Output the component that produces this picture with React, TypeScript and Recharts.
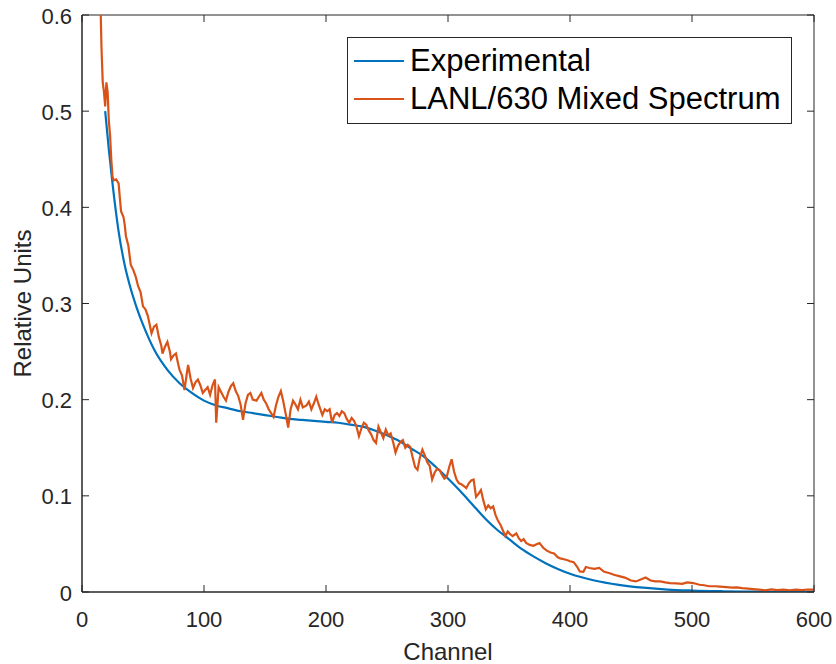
import React from 'react';
import { Legend, Line, LineChart, ReferenceArea, XAxis, YAxis } from 'recharts';

// Experimental (smooth) curve
const expChannels = [19, 22, 25, 30, 35, 40, 45, 50, 55, 60, 70, 80, 90, 100, 110, 120, 130, 140, 150, 160, 170, 180, 190, 200,
    210, 220, 230, 240, 250, 260, 270, 280, 290, 300, 310, 320, 330, 340, 350, 360, 370, 380, 390, 400,
    420, 440, 460, 480, 500, 525, 550, 575, 600];
const expValues = [0.5, 0.46, 0.425, 0.375, 0.34, 0.315, 0.295, 0.278, 0.263, 0.25, 0.231, 0.217, 0.207, 0.199, 0.194, 0.191,
    0.188, 0.186, 0.184, 0.182, 0.18, 0.179, 0.178, 0.177, 0.176, 0.174, 0.172, 0.168, 0.163, 0.157, 0.149, 0.141, 0.13,
    0.118, 0.105, 0.091, 0.077, 0.065, 0.055, 0.045, 0.037, 0.03, 0.024, 0.019, 0.012, 0.0075, 0.0045, 0.0025, 0.0015,
    0.0008, 0.0004, 0.0002, 0.0001];

// LANL/630 mixed spectrum (noisy)
const lanlChannels = [15, 16, 17, 18, 19, 20, 21, 22, 23, 24, 25, 26, 28, 30, 31, 32, 34, 35, 36, 38, 40, 42, 44, 46, 48,
    50, 52, 54, 56, 57, 59, 61, 63, 65, 66, 68, 70, 72, 73, 75, 77, 79, 80, 82, 84, 86, 87, 89, 91, 93, 95, 97, 99,
    101, 103, 105, 107, 109, 110, 112, 114, 116, 118, 120, 122, 124, 126, 128, 130, 132, 134, 136, 138, 140, 143, 145,
    147, 149, 151, 153, 155, 157, 159, 161, 163, 165, 167, 169, 171, 173, 175, 177, 179, 181, 184, 186, 188, 190, 192,
    194, 197, 199, 201, 203, 205, 207, 209, 211, 213, 215, 217, 219, 221, 223, 225, 227, 229, 231, 233, 235, 237, 239,
    241, 243, 245, 247, 249, 251, 253, 255, 257, 259, 261, 263, 265, 267, 269, 271, 273, 275, 277, 279, 281, 283, 285,
    287, 289, 291, 293, 295, 297, 299, 301, 303, 305, 307, 309, 311, 313, 315, 317, 319, 321, 323, 325, 327, 329, 331,
    333, 335, 337, 339, 341, 343, 345, 347, 349, 351, 353, 356, 358, 360, 362, 364, 367, 370, 373, 375, 378, 381, 384,
    387, 390, 392, 395, 398, 400, 403, 406, 408, 411, 413, 416, 420, 424, 428, 432, 436, 441, 445, 450, 454, 458, 462,
    466, 470, 474, 478, 482, 487, 492, 496, 501, 506, 510, 514, 519, 523, 528, 533, 537, 541, 546, 550, 555, 560, 565,
    570, 575, 580, 585, 590, 595, 600];
const lanlValues = [0.62, 0.565, 0.53, 0.52, 0.505, 0.53, 0.52, 0.49, 0.475, 0.45, 0.432, 0.428, 0.429, 0.425, 0.41, 0.396,
    0.39, 0.382, 0.37, 0.36, 0.34, 0.335, 0.328, 0.318, 0.312, 0.297, 0.294, 0.287, 0.275, 0.269, 0.276, 0.278, 0.265,
    0.256, 0.248, 0.255, 0.26, 0.25, 0.242, 0.246, 0.248, 0.236, 0.231, 0.225, 0.21, 0.228, 0.236, 0.222, 0.212, 0.218,
    0.221, 0.215, 0.207, 0.21, 0.213, 0.205, 0.215, 0.221, 0.176, 0.213, 0.208, 0.203, 0.199, 0.208, 0.214, 0.217, 0.209,
    0.204, 0.195, 0.179, 0.196, 0.205, 0.207, 0.2, 0.199, 0.203, 0.207, 0.2, 0.196, 0.19, 0.186, 0.182, 0.194, 0.203,
    0.209, 0.198, 0.185, 0.171, 0.19, 0.199, 0.195, 0.19, 0.2, 0.192, 0.194, 0.198, 0.19, 0.196, 0.203, 0.195, 0.184,
    0.19, 0.188, 0.19, 0.176, 0.184, 0.186, 0.183, 0.188, 0.186, 0.18, 0.176, 0.181, 0.178, 0.172, 0.162, 0.17, 0.176,
    0.174, 0.168, 0.164, 0.158, 0.155, 0.172, 0.166, 0.16, 0.169, 0.163, 0.165, 0.156, 0.145, 0.152, 0.156, 0.158, 0.15,
    0.153, 0.151, 0.14, 0.13, 0.127, 0.14, 0.148, 0.142, 0.135, 0.131, 0.117, 0.124, 0.128, 0.127, 0.122, 0.118, 0.12,
    0.13, 0.138, 0.125, 0.117, 0.113, 0.112, 0.11, 0.108, 0.113, 0.116, 0.117, 0.099, 0.102, 0.106, 0.095, 0.086, 0.09,
    0.087, 0.089, 0.08, 0.074, 0.07, 0.064, 0.058, 0.063, 0.06, 0.058, 0.061, 0.056, 0.053, 0.055, 0.051, 0.049, 0.048,
    0.05, 0.051, 0.046, 0.043, 0.041, 0.04, 0.036, 0.035, 0.034, 0.033, 0.032, 0.031, 0.026, 0.0214, 0.021, 0.026, 0.025,
    0.024, 0.025, 0.021, 0.0197, 0.018, 0.0163, 0.015, 0.012, 0.011, 0.013, 0.015, 0.012, 0.011, 0.011, 0.01, 0.0093,
    0.009, 0.0085, 0.01, 0.0093, 0.0075, 0.007, 0.006, 0.006, 0.0055, 0.005, 0.0045, 0.0048, 0.004, 0.0035, 0.003,
    0.0024, 0.0018, 0.0028, 0.002, 0.0025, 0.0018, 0.0024, 0.002, 0.0026, 0.0024];

const xTicks = [0, 100, 200, 300, 400, 500, 600];
const yTicks = [0, 0.1, 0.2, 0.3, 0.4, 0.5, 0.6];

const expData = expChannels.map((x, i) => ({ x, y: expValues[i] }));
const lanlData = lanlChannels.map((x, i) => ({ x, y: lanlValues[i] }));

const AXIS = '#262626';
const FONT = '"Liberation Sans", Arial, Helvetica, sans-serif';
const PLOT = { left: 82, right: 814, top: 15, bottom: 592 };
const TICK_LEN = 7;

const XTick = (props: any) => {
    const { x, payload } = props;
    return (
        <g>
            <line x1={x} x2={x} y1={PLOT.bottom} y2={PLOT.bottom - TICK_LEN} stroke={AXIS} />
            <line x1={x} x2={x} y1={PLOT.top} y2={PLOT.top + TICK_LEN} stroke={AXIS} />
            <text x={x} y={619} textAnchor="middle" dominantBaseline="central" fill={AXIS} fontSize={22} fontFamily={FONT}>
                {payload.value}
            </text>
        </g>
    );
};

const YTick = (props: any) => {
    const { y, payload } = props;
    return (
        <g>
            <line x1={PLOT.left} x2={PLOT.left + TICK_LEN} y1={y} y2={y} stroke={AXIS} />
            <line x1={PLOT.right} x2={PLOT.right - TICK_LEN} y1={y} y2={y} stroke={AXIS} />
            <text x={72} y={y + 1} textAnchor="end" dominantBaseline="central" fill={AXIS} fontSize={22} fontFamily={FONT}>
                {payload.value}
            </text>
        </g>
    );
};

const LegendBox = (props: any) => {
    const items = props.payload || [];
    return (
        <div
            style={{
                width: 445,
                height: 87,
                boxSizing: 'border-box',
                border: `1px solid ${AXIS}`,
                background: '#fff',
                paddingTop: 4,
                fontFamily: FONT,
            }}
        >
            {items.map((it: any) => (
                <div key={it.value} style={{ display: 'flex', alignItems: 'center', height: 38 }}>
                    <svg width={62} height={10} style={{ flex: 'none' }}>
                        <line x1={6} x2={56} y1={5} y2={5} stroke={it.color} strokeWidth={2} />
                    </svg>
                    <span style={{ fontSize: 31, color: '#000', whiteSpace: 'nowrap', lineHeight: '38px' }}>{it.value}</span>
                </div>
            ))}
        </div>
    );
};

const App: React.FC = () => {
    return (
        <div style={{ position: 'absolute', left: 0, top: 0, background: '#fff' }}>
            <LineChart width={836} height={664} margin={{ top: 15, right: 22, bottom: 0, left: 0 }}>
                <XAxis
                    dataKey="x"
                    type="number"
                    domain={[0, 600]}
                    ticks={xTicks}
                    height={72}
                    axisLine={{ stroke: AXIS }}
                    tickLine={false}
                    tick={<XTick />}
                    interval={0}
                    allowDataOverflow
                    label={{ value: 'Channel', position: 'insideBottom', offset: 4, fill: AXIS, fontSize: 24, fontFamily: FONT }}
                />
                <YAxis
                    type="number"
                    domain={[0, 0.6]}
                    ticks={yTicks}
                    width={82}
                    axisLine={{ stroke: AXIS }}
                    tickLine={false}
                    tick={<YTick />}
                    interval={0}
                    allowDataOverflow
                    label={{ value: 'Relative Units', angle: -90, position: 'insideLeft', offset: 22, fill: AXIS, fontSize: 24, fontFamily: FONT, style: { textAnchor: 'middle' } }}
                />
                <ReferenceArea x1={0} x2={600} y1={0} y2={0.6} fill="none" stroke={AXIS} strokeOpacity={1} ifOverflow="visible" />
                <Line
                    data={expData}
                    dataKey="y"
                    name="Experimental"
                    type="monotone"
                    stroke="#0072BD"
                    strokeWidth={2.2}
                    dot={false}
                    isAnimationActive={false}
                />
                <Line
                    data={lanlData}
                    dataKey="y"
                    name="LANL/630 Mixed Spectrum"
                    type="linear"
                    stroke="#D95319"
                    strokeWidth={2.2}
                    dot={false}
                    isAnimationActive={false}
                />
                <Legend
                    layout="vertical"
                    align="center"
                    verticalAlign="middle"
                    content={<LegendBox />}
                    wrapperStyle={{ position: 'absolute', left: 347, top: 37, width: 445 }}
                />
            </LineChart>
        </div>
    );
};

export default App;
